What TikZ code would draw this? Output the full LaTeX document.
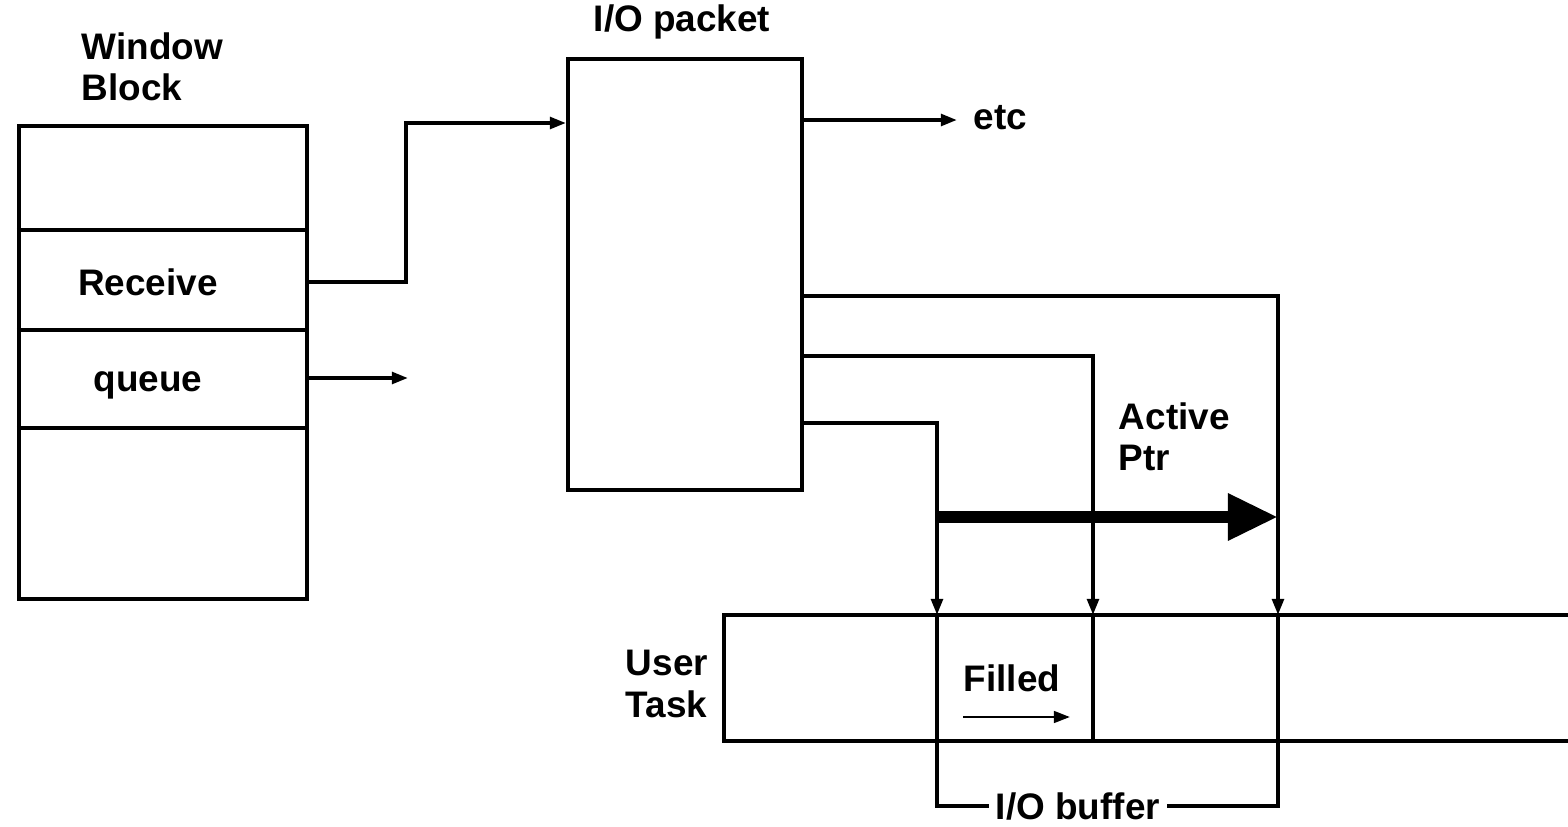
\documentclass[tikz,border=0pt]{standalone}
\usepackage{fontspec}
\setmainfont{Liberation Sans}
\usetikzlibrary{arrows.meta,calc}
\begin{document}
\begin{tikzpicture}[x=0.01cm,y=-0.01cm, line width=1.05pt,
  lbl/.style={font=\fontsize{10.5}{11.8}\selectfont\bfseries, inner sep=0pt, align=left},
  box/.style={draw, inner sep=0pt, anchor=north west},
  tip/.style={-{Triangle[length=1.6mm,width=1.15mm]}},
  bigtip/.style={line width=3.4pt, -{Triangle[length=5mm,width=4.4mm]}}
  ]
\useasboundingbox (0,0) rectangle (1568,827);
% Window block
\node[box, minimum width=2.88cm, minimum height=4.73cm] (wb) at (17,124) {};
\node[lbl, anchor=west] (wbl) at (80,67) {Window\\Block};
\draw (wb.west |- 0,230) -- (wb.east |- 0,230);
\draw (wb.west |- 0,330) -- (wb.east |- 0,330);
\draw (wb.west |- 0,428) -- (wb.east |- 0,428);
\node[lbl] (rcv) at (148,282) {Receive};
\node[lbl, anchor=base] (que) at (148,391) {queue};
% I/O packet
\node[box, minimum width=2.34cm, minimum height=4.31cm] (pkt) at (566,57) {};
\node[lbl] (pktl) at (682,22) {I/O packet};
% connectors from window block
\coordinate (bend) at (406,123);
\coordinate (qend) at (408,378);
\draw[tip] (wb.east |- rcv) -| (bend) -- (pkt.west |- bend);
\draw[tip] (wb.east |- 0,378) -- (qend);
% etc
\node[lbl, anchor=west] (etc) at (972,118) {etc};
\draw[tip, shorten >=1.5mm] (pkt.east |- 0,120) -- (etc.west |- 0,120);
% user task box
\coordinate (utNW) at (724,615);
\coordinate (utSW) at (724,741);
\coordinate (utNE) at (1568,615);
\coordinate (utSE) at (1568,741);
\draw (utNE) -- (utNW) -- (utSW) -- (utSE);
\node[lbl, anchor=west] (utl) at (624,684) {User\\Task};
% pointers
\coordinate (pA) at (1278,615);
\coordinate (pB) at (1093,615);
\coordinate (pC) at (937,615);
\draw[tip] (pkt.east |- 0,296) -| (pA);
\draw[tip] (pkt.east |- 0,356) -| (pB);
\draw[tip] (pkt.east |- 0,423) -| (pC);
\draw (pB) -- (pB |- utSW);
% I/O buffer
\node[lbl, inner xsep=1.5pt] (buf) at (1078,806) {I/O buffer};
\draw (pC) -- (pC |- buf) -- (buf.west);
\draw (pA) -- (pA |- buf) -- (buf.east);
% Active pointer
\coordinate (aS) at (937,517);
\coordinate (aE) at (1278,517);
\draw[bigtip] (aS) -- (aE);
\node[lbl, anchor=west] (apl) at (1117,437) {Active\\Ptr};
% Filled
\node[lbl] (fil) at (1012,678) {Filled};
\coordinate (fS) at (963,717);
\coordinate (fE) at (1070,717);
\draw[tip, line width=0.8pt] (fS) -- (fE);
\end{tikzpicture}
\end{document}
